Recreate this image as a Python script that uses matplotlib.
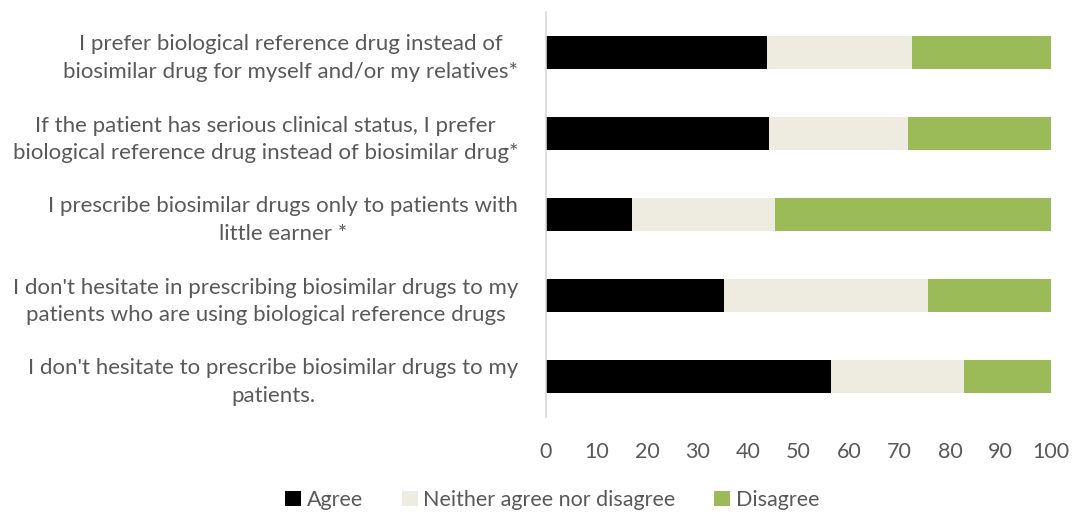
import matplotlib
matplotlib.use("Agg")
import matplotlib.pyplot as plt
import numpy as np

categories = [
    "I prefer biological reference drug instead of\nbiosimilar drug for myself and/or my relatives*",
    "If the patient has serious clinical status, I prefer\nbiological reference drug instead of biosimilar drug*",
    "I prescribe biosimilar drugs only to patients with\nlittle earner *",
    "I don't hesitate in prescribing biosimilar drugs to my\npatients who are using biological reference drugs",
    "I don't hesitate to prescribe biosimilar drugs to my\npatients.",
]
agree = [43.8, 44.2, 17.1, 35.2, 56.5]
neither = [28.6, 27.4, 28.3, 40.5, 26.3]
disagree = [27.6, 28.4, 54.6, 24.3, 17.2]
series_names = ["Agree", "Neither agree nor disagree", "Disagree"]
colors = ["#000000", "#EEEBE0", "#9BBB59"]
xticks = list(range(0, 101, 10))

plt.rcParams['font.family'] = ['Lato', 'DejaVu Sans']
fig = plt.figure(figsize=(10.72, 5.14), dpi=100)
ax = fig.add_axes([546/1072, 1-417/514, (1051-546)/1072, (417-12)/514])

y = np.arange(len(categories))
left = np.zeros(len(categories))
for vals, name, c in zip([agree, neither, disagree], series_names, colors):
    ax.barh(y, vals, left=left, height=0.41, color=c, label=name)
    left = left + np.array(vals)

ax.set_ylim(len(categories) - 0.5, -0.5)
ax.set_xlim(0, 100)
ax.set_xticks(xticks)
ax.set_yticks(y)
ax.set_yticklabels(categories, fontsize=16, color="#595959")
for t in ax.get_yticklabels():
    t.set_multialignment('center')
    t.set_linespacing(1.45)
ax.tick_params(axis='x', labelsize=15.5, labelcolor="#595959", length=0, pad=18)
ax.tick_params(axis='y', length=0, pad=20)
for s in ['top', 'right', 'bottom']:
    ax.spines[s].set_visible(False)
ax.spines['left'].set_color("#D9D9D9")
ax.spines['left'].set_linewidth(1.2)

fig.legend(loc='center', bbox_to_anchor=(0.515, 1-500/514), ncol=3, frameon=False,
           fontsize=15.5, labelcolor="#595959", handlelength=0.75, handleheight=0.75,
           handletextpad=0.25, columnspacing=1.8)

fig.savefig("out.png", dpi=100)
